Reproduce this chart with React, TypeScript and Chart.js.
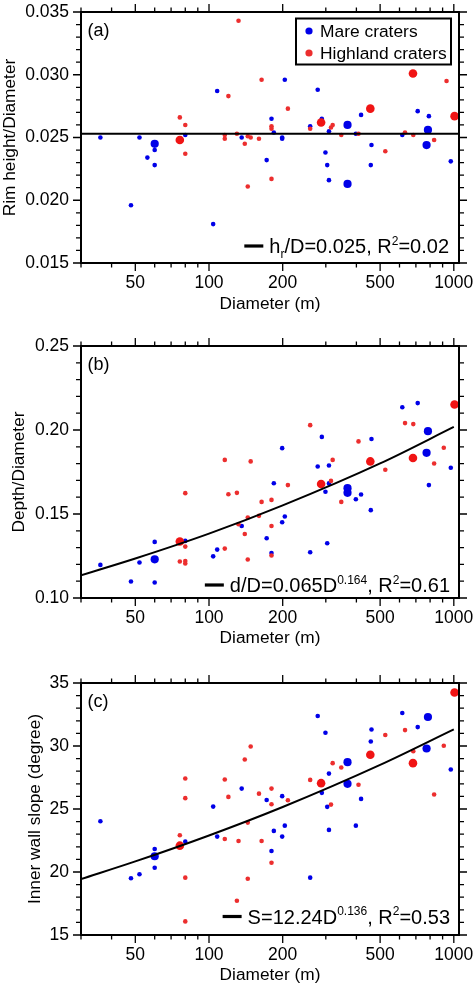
import React, { useEffect, useRef } from "react";
import { Chart, registerables } from "chart.js";

Chart.register(...registerables);

const FONT = "'Liberation Sans', Arial, Helvetica, sans-serif";
const BLUE = "rgb(0,0,232)";
const RED = "rgb(236,46,46)";
const RED_BIG = "rgb(240,20,20)";

// shared x axis (crater diameter, m)
const X_MIN = 30;
const X_MAX = 1050;
const X_MAJOR = [50, 100, 200, 500, 1000];
const X_MINOR = [30, 40, 60, 70, 80, 90, 300, 400, 600, 700, 800, 900];

// ---------- Panel (a): rim height / diameter ----------
const A_Y_TICKS = [0.015, 0.02, 0.025, 0.03, 0.035];
const A_MARE: number[][] = [
  [36, 0.025], [52, 0.025], [60, 0.024], [56, 0.0234], [60, 0.0228], [48, 0.0196],
  [80, 0.0252], [108, 0.0287], [104, 0.0181], [136, 0.025], [172, 0.0232], [180, 0.0265],
  [184, 0.0254], [199, 0.025], [199, 0.0249], [204, 0.0296], [259, 0.0259], [278, 0.0288],
  [289, 0.0265], [299, 0.0238], [304, 0.0228], [309, 0.0216], [309, 0.0255], [398, 0.0253],
  [418, 0.0268], [461, 0.0244], [458, 0.0228], [616, 0.0252], [712, 0.0271], [791, 0.0267],
  [972, 0.0231],
];
const A_MARE_BIG: number[][] = [[60, 0.0245], [368, 0.026], [368, 0.0213], [784, 0.0256], [774, 0.0244]];
const A_HIGH: number[][] = [
  [76, 0.0266], [80, 0.026], [80, 0.0237], [132, 0.0343], [120, 0.0283], [164, 0.0296],
  [116, 0.0252], [116, 0.0249], [130, 0.0253], [144, 0.0251], [148, 0.025], [140, 0.0245],
  [160, 0.0249], [144, 0.0211], [180, 0.0217], [180, 0.0259], [180, 0.0257], [210, 0.0273],
  [259, 0.0257], [315, 0.0258], [320, 0.026], [347, 0.0252], [408, 0.0253], [525, 0.0239],
  [632, 0.0254], [683, 0.0252], [831, 0.0248], [934, 0.0295],
];
const A_HIGH_BIG: number[][] = [[76, 0.0248], [287, 0.0262], [456, 0.0273], [681, 0.0301], [1007, 0.0267]];
const A_FIT_D = [30, 1050];
const A_FIT_V = [0.0253, 0.0253];

// ---------- Panel (b): depth / diameter ----------
const B_Y_TICKS = [0.1, 0.15, 0.2, 0.25];
const B_MARE: number[][] = [
  [36, 0.1197], [52, 0.1211], [60, 0.1334], [60, 0.1092], [48, 0.1098], [80, 0.134],
  [104, 0.1248], [108, 0.1288], [136, 0.1429], [172, 0.1356], [180, 0.1268], [184, 0.1683],
  [199, 0.1451], [204, 0.1485], [199, 0.1892], [259, 0.1272], [289, 0.1959], [278, 0.1783],
  [299, 0.1632], [304, 0.1326], [309, 0.1789], [309, 0.1682], [398, 0.1588], [418, 0.1616],
  [461, 0.1946], [458, 0.1523], [616, 0.2135], [712, 0.216], [791, 0.1672], [972, 0.1775],
];
const B_MARE_BIG: number[][] = [[60, 0.123], [368, 0.1654], [368, 0.1626], [784, 0.1993], [774, 0.1864]];
const B_HIGH: number[][] = [
  [76, 0.1217], [80, 0.1306], [80, 0.122], [80, 0.1205], [80, 0.1624], [116, 0.1294],
  [116, 0.1822], [120, 0.1618], [130, 0.1626], [148, 0.1813], [132, 0.1439], [140, 0.1381],
  [144, 0.1479], [144, 0.1229], [160, 0.1489], [164, 0.1572], [180, 0.1584], [180, 0.1429],
  [180, 0.1253], [210, 0.1672], [259, 0.2029], [315, 0.1697], [320, 0.1822], [347, 0.1572],
  [408, 0.1932], [525, 0.1763], [632, 0.2041], [683, 0.2035], [831, 0.1801], [910, 0.1894],
];
const B_HIGH_BIG: number[][] = [[76, 0.1336], [287, 0.1679], [456, 0.1813], [681, 0.1833], [1007, 0.2152]];
const B_FIT_D = [30, 50, 100, 200, 500, 1000];
const B_FIT_V = [0.1135, 0.1235, 0.1383, 0.1551, 0.1801, 0.2018];

// ---------- Panel (c): inner wall slope ----------
const C_Y_TICKS = [15, 20, 25, 30, 35];
const C_MARE: number[][] = [
  [36, 24.03], [48, 19.5], [52, 19.82], [60, 21.83], [60, 20.34], [80, 22.41], [104, 25.19],
  [108, 22.81], [136, 26.62], [172, 25.72], [180, 21.67], [184, 23.26], [199, 26.02],
  [199, 22.81], [204, 23.68], [259, 19.55], [278, 32.38], [289, 26.28], [299, 31.05],
  [304, 25.17], [309, 27.81], [309, 23.34], [398, 23.68], [418, 25.8], [461, 31.31],
  [458, 30.36], [616, 32.62], [712, 31.5], [972, 28.13],
];
const C_MARE_BIG: number[][] = [[60, 21.25], [368, 28.72], [368, 27.0], [784, 32.3], [774, 29.8]];
const C_HIGH: number[][] = [
  [76, 22.92], [80, 27.42], [80, 25.86], [80, 19.55], [80, 16.08], [116, 27.34], [116, 22.62],
  [120, 25.96], [130, 17.72], [132, 22.46], [140, 28.93], [144, 23.92], [144, 19.47],
  [148, 29.96], [160, 26.22], [164, 22.46], [180, 26.62], [180, 25.38], [180, 20.74],
  [210, 25.7], [259, 27.31], [315, 25.35], [320, 28.64], [347, 28.29], [408, 26.92],
  [525, 30.87], [632, 31.26], [683, 29.59], [831, 26.15], [910, 30.02],
];
const C_HIGH_BIG: number[][] = [[76, 22.09], [287, 27.05], [456, 29.3], [681, 28.64], [1007, 34.25]];
const C_FIT_D = [30, 50, 100, 200, 500, 1000];
const C_FIT_V = [19.44, 20.84, 22.9, 25.16, 28.5, 31.32];

type Part = { t: string; m: "n" | "sub" | "sup" };

const A_ANNOT: Part[] = [
  { t: "h", m: "n" }, { t: "r", m: "sub" }, { t: "/D=0.025, R", m: "n" }, { t: "2", m: "sup" }, { t: "=0.02", m: "n" },
];
const B_ANNOT: Part[] = [
  { t: "d/D=0.065D", m: "n" }, { t: "0.164", m: "sup" }, { t: ", R", m: "n" }, { t: "2", m: "sup" }, { t: "=0.61", m: "n" },
];
const C_ANNOT: Part[] = [
  { t: "S=12.24D", m: "n" }, { t: "0.136", m: "sup" }, { t: ", R", m: "n" }, { t: "2", m: "sup" }, { t: "=0.53", m: "n" },
];

const W = 474;
const AREA_LEFT = 81;
const AREA_RIGHT = 459;
const TICK_FONT = 17.5;
const TITLE_FONT = 17.3;
const ANNOT_FONT = 20;

type PanelCfg = {
  canvasTop: number; canvasHeight: number; areaTop: number; areaBottom: number;
  yMin: number; yMax: number; yTicks: number[]; yMinorStep: number; decimals: number;
  yTitle: string; yTitleX: number; xLabelY: number; xTitleY: number; letter: string;
  mare: number[][]; mareBig: number[][]; high: number[][]; highBig: number[][];
  fitD: number[]; fitV: number[]; annot: Part[]; annotY: number; annotRight: number; legend: boolean;
};

const PANELS: PanelCfg[] = [
  {
    canvasTop: 0, canvasHeight: 322, areaTop: 12, areaBottom: 263,
    yMin: 0.015, yMax: 0.035, yTicks: A_Y_TICKS, yMinorStep: 0.001, decimals: 3,
    yTitle: "Rim height/Diameter", yTitleX: 10, xLabelY: 283.5, xTitleY: 304, letter: "(a)",
    mare: A_MARE, mareBig: A_MARE_BIG, high: A_HIGH, highBig: A_HIGH_BIG,
    fitD: A_FIT_D, fitV: A_FIT_V, annot: A_ANNOT, annotY: 246, annotRight: 449, legend: true,
  },
  {
    canvasTop: 330, canvasHeight: 322, areaTop: 346, areaBottom: 598,
    yMin: 0.1, yMax: 0.25, yTicks: B_Y_TICKS, yMinorStep: 0.01, decimals: 2,
    yTitle: "Depth/Diameter", yTitleX: 19.5, xLabelY: 618.5, xTitleY: 638.5, letter: "(b)",
    mare: B_MARE, mareBig: B_MARE_BIG, high: B_HIGH, highBig: B_HIGH_BIG,
    fitD: B_FIT_D, fitV: B_FIT_V, annot: B_ANNOT, annotY: 585, annotRight: 450, legend: false,
  },
  {
    canvasTop: 660, canvasHeight: 327, areaTop: 683, areaBottom: 935,
    yMin: 15, yMax: 35, yTicks: C_Y_TICKS, yMinorStep: 1, decimals: 0,
    yTitle: "Inner wall slope (degree)", yTitleX: 35, xLabelY: 955, xTitleY: 975, letter: "(c)",
    mare: C_MARE, mareBig: C_MARE_BIG, high: C_HIGH, highBig: C_HIGH_BIG,
    fitD: C_FIT_D, fitV: C_FIT_V, annot: C_ANNOT, annotY: 916.5, annotRight: 450, legend: false,
  },
];

const toPts = (arr: number[][]) => arr.map(([x, y]) => ({ x, y }));

function drawRich(ctx: CanvasRenderingContext2D, parts: Part[], rightX: number, midY: number, size: number) {
  const big = `${size}px ${FONT}`;
  const small = `${Math.round(size * 0.62)}px ${FONT}`;
  let total = 0;
  const widths = parts.map((p) => {
    ctx.font = p.m === "n" ? big : small;
    const w = ctx.measureText(p.t).width;
    total += w;
    return w;
  });
  let x = rightX - total;
  const start = x;
  const base = midY + size * 0.36;
  ctx.textBaseline = "alphabetic";
  ctx.textAlign = "left";
  parts.forEach((p, i) => {
    ctx.font = p.m === "n" ? big : small;
    const dy = p.m === "sub" ? size * 0.22 : p.m === "sup" ? -size * 0.42 : 0;
    ctx.fillText(p.t, x, base + dy);
    x += widths[i];
  });
  return start;
}

function Panel({ cfg }: { cfg: PanelCfg }) {
  const ref = useRef<HTMLCanvasElement | null>(null);
  useEffect(() => {
    const canvas = ref.current;
    if (!canvas) return;
    const off = cfg.canvasTop;
    const tickFont = { family: FONT, size: TICK_FONT };
    const titleFont = { family: FONT, size: TITLE_FONT };
    const halfTick = (TICK_FONT * 1.2) / 2;
    const halfTitle = (TITLE_FONT * 1.2) / 2;

    const decor = {
      id: "decor",
      afterDraw(chart: any) {
        const ctx: CanvasRenderingContext2D = chart.ctx;
        const { left, right, top, bottom } = chart.chartArea;
        const xs = chart.scales.x;
        const ys = chart.scales.y;
        ctx.save();
        ctx.strokeStyle = "#000";
        ctx.fillStyle = "#000";
        // tick marks on all four sides, outward
        ctx.lineWidth = 1.3;
        ctx.beginPath();
        const xt = (v: number, len: number) => {
          const px = xs.getPixelForValue(v);
          ctx.moveTo(px, top); ctx.lineTo(px, top - len);
          ctx.moveTo(px, bottom); ctx.lineTo(px, bottom + len);
        };
        X_MAJOR.forEach((v) => xt(v, 8));
        X_MINOR.forEach((v) => xt(v, 4.5));
        const n = Math.round((cfg.yMax - cfg.yMin) / cfg.yMinorStep);
        for (let i = 0; i <= n; i++) {
          const v = cfg.yMin + i * cfg.yMinorStep;
          const isMajor = cfg.yTicks.some((t) => Math.abs(t - v) < cfg.yMinorStep / 10);
          const len = isMajor ? 8 : 5;
          const py = ys.getPixelForValue(v);
          ctx.moveTo(left, py); ctx.lineTo(left - len, py);
          ctx.moveTo(right, py); ctx.lineTo(right + len, py);
        }
        ctx.stroke();
        // frame
        ctx.lineWidth = 2;
        ctx.strokeRect(left, top, right - left, bottom - top);
        // panel letter
        ctx.font = `18px ${FONT}`;
        ctx.textAlign = "left";
        ctx.textBaseline = "middle";
        ctx.fillText(cfg.letter, left + 6.5, top + 19);
        // fit annotation
        const ay = cfg.annotY - off;
        const start = drawRich(ctx, cfg.annot, cfg.annotRight, ay, ANNOT_FONT);
        ctx.lineWidth = 3.2;
        ctx.beginPath();
        ctx.moveTo(start - 25, ay);
        ctx.lineTo(start - 6, ay);
        ctx.stroke();
        // legend
        if (cfg.legend) {
          ctx.lineWidth = 2;
          ctx.strokeRect(296, 18.5 - off, 155, 46);
          const items = [
            { c: BLUE, t: "Mare craters", y: 31 },
            { c: RED, t: "Highland craters", y: 53 },
          ];
          ctx.font = `17.4px ${FONT}`;
          ctx.textBaseline = "middle";
          items.forEach((it) => {
            ctx.fillStyle = it.c;
            ctx.beginPath();
            ctx.arc(309, it.y - off, 3.6, 0, Math.PI * 2);
            ctx.fill();
            ctx.fillStyle = "#000";
            ctx.fillText(it.t, 320, it.y - off + 1);
          });
        }
        ctx.restore();
      },
    };

    const pointSet = (data: number[][], color: string, r: number) => ({
      data: toPts(data),
      backgroundColor: color,
      borderColor: color,
      pointBackgroundColor: color,
      pointBorderWidth: 0,
      pointRadius: r,
      pointHoverRadius: r,
      showLine: false,
    });

    const chart = new Chart(canvas, {
      type: "scatter",
      data: {
        datasets: [
          {
            type: "line",
            data: cfg.fitD.map((d, i) => ({ x: d, y: cfg.fitV[i] })),
            borderColor: "#000",
            borderWidth: 2,
            pointRadius: 0,
            fill: false,
            cubicInterpolationMode: "monotone",
          } as any,
          pointSet(cfg.highBig, RED_BIG, 4.3),
          pointSet(cfg.mareBig, BLUE, 4.1),
          pointSet(cfg.high, RED, 2.3),
          pointSet(cfg.mare, BLUE, 2.3),
        ],
      },
      options: {
        responsive: false,
        animation: false,
        devicePixelRatio: 1,
        events: [],
        layout: { padding: { top: cfg.areaTop - off, right: W - AREA_RIGHT, left: 0, bottom: 0 } },
        plugins: { legend: { display: false }, tooltip: { enabled: false } },
        scales: {
          x: {
            type: "logarithmic",
            position: "bottom",
            min: X_MIN,
            max: X_MAX,
            grid: { display: false, drawTicks: true, tickLength: cfg.xLabelY - cfg.areaBottom - halfTick },
            border: { display: false },
            afterBuildTicks: (s: any) => { s.ticks = X_MAJOR.map((v) => ({ value: v })); },
            afterFit: (s: any) => { s.height = off + cfg.canvasHeight - cfg.areaBottom; },
            ticks: {
              font: tickFont, color: "#000", padding: 0,
              maxRotation: 0, autoSkip: false, callback: (v: any) => String(v),
            },
            title: {
              display: true, text: "Diameter (m)", font: titleFont, color: "#000",
              padding: { top: 0, bottom: off + cfg.canvasHeight - cfg.xTitleY - halfTitle },
            },
          },
          y: {
            type: "linear",
            position: "left",
            min: cfg.yMin,
            max: cfg.yMax,
            grid: { display: false, drawTicks: true, tickLength: 12 },
            border: { display: false },
            afterBuildTicks: (s: any) => { s.ticks = cfg.yTicks.map((v) => ({ value: v })); },
            afterFit: (s: any) => { s.width = AREA_LEFT; },
            ticks: {
              font: tickFont, color: "#000", padding: 0,
              callback: (v: any) => Number(v).toFixed(cfg.decimals),
            },
            title: {
              display: true, text: cfg.yTitle, font: titleFont, color: "#000",
              padding: { top: cfg.yTitleX - halfTitle, bottom: 0 },
            },
          },
        },
      } as any,
      plugins: [decor],
    });
    return () => chart.destroy();
  }, [cfg]);

  return (
    <canvas
      ref={ref}
      width={W}
      height={cfg.canvasHeight}
      style={{ position: "absolute", left: 0, top: cfg.canvasTop, width: W, height: cfg.canvasHeight }}
    />
  );
}

export default function App() {
  return (
    <div style={{ position: "absolute", left: 0, top: 0, width: W, height: 987, background: "#fff" }}>
      {PANELS.map((p, i) => (
        <Panel key={i} cfg={p} />
      ))}
    </div>
  );
}
